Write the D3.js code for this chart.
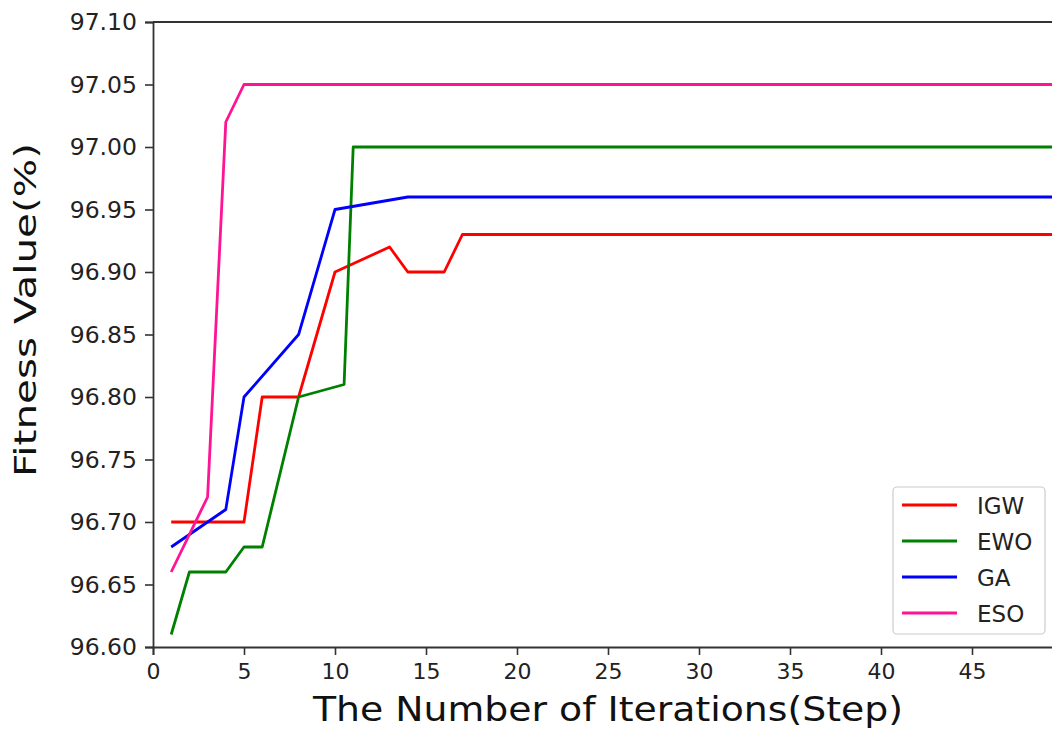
<!DOCTYPE html>
<html>
<head>
<meta charset="utf-8">
<script src="https://cdn.jsdelivr.net/npm/d3@7"></script>
<style>
  html, body { margin: 0; padding: 0; background: #fff; }
  svg { display: block; font-family: "DejaVu Sans", sans-serif; }
</style>
</head>
<body>
<svg id="chart" width="1052" height="731"></svg>
<script>
// ---- data ----
const seriesNames = ["IGW", "EWO", "GA", "ESO"];
const seriesColors = ["#ff0000", "#008000", "#0000ff", "#ff1493"];
const igwX = [1, 5, 6, 8, 10, 13, 14, 16, 17, 50];
const igwY = [96.70, 96.70, 96.80, 96.80, 96.90, 96.92, 96.90, 96.90, 96.93, 96.93];
const ewoX = [1, 2, 4, 5, 6, 8, 10.5, 11, 50];
const ewoY = [96.61, 96.66, 96.66, 96.68, 96.68, 96.80, 96.81, 97.00, 97.00];
const gaX = [1, 4, 5, 8, 10, 14, 50];
const gaY = [96.68, 96.71, 96.80, 96.85, 96.95, 96.96, 96.96];
const esoX = [1, 3, 4, 5, 50];
const esoY = [96.66, 96.72, 97.02, 97.05, 97.05];
const xTicks = [0, 5, 10, 15, 20, 25, 30, 35, 40, 45];
const yTicks = [96.60, 96.65, 96.70, 96.75, 96.80, 96.85, 96.90, 96.95, 97.00, 97.05, 97.10];
const xTitle = "The Number of Iterations(Step)";
const yTitle = "Fitness Value(%)";

const seriesX = [igwX, ewoX, gaX, esoX];
const seriesY = [igwY, ewoY, gaY, esoY];

// ---- layout ----
const svg = d3.select("#chart");
const plotLeft = 153, plotTop = 22, plotBottom = 647;
const x = d3.scaleLinear().domain([0, 50]).range([plotLeft, plotLeft + 50 * 18.2]);
const y = d3.scaleLinear().domain([96.60, 97.10]).range([plotBottom, plotTop]);

const axisColor = "#333";

// lines
const line = d3.line().x(d => x(d[0])).y(d => y(d[1]));
seriesNames.forEach((name, i) => {
  const pts = seriesX[i].map((v, j) => [v, seriesY[i][j]]);
  svg.append("path")
    .datum(pts)
    .attr("d", line)
    .attr("fill", "none")
    .attr("stroke", seriesColors[i])
    .attr("stroke-width", 2.8)
    .attr("stroke-linejoin", "round");
});

// top spine
svg.append("line").attr("x1", plotLeft).attr("x2", 1052).attr("y1", plotTop).attr("y2", plotTop)
  .attr("stroke", axisColor).attr("stroke-width", 1.8);

// y axis
const yAxis = d3.axisLeft(y).tickValues(yTicks).tickFormat(d3.format(".2f")).tickSize(8).tickPadding(8);
const gy = svg.append("g").attr("transform", `translate(${plotLeft},0)`).call(yAxis);
gy.select(".domain").attr("stroke", axisColor).attr("stroke-width", 1.8);
gy.selectAll(".tick line").attr("stroke", axisColor).attr("stroke-width", 1.6);
gy.selectAll(".tick text").attr("fill", "#222").style("font-size", "23.5px")
  .style("font-family", "DejaVu Sans, sans-serif");

// x axis
const xAxis = d3.axisBottom(x).tickValues(xTicks).tickFormat(d3.format("d")).tickSize(8).tickPadding(8);
const gx = svg.append("g").attr("transform", `translate(0,${plotBottom})`).call(xAxis);
gx.select(".domain").attr("stroke", axisColor).attr("stroke-width", 1.8);
gx.selectAll(".tick line").attr("stroke", axisColor).attr("stroke-width", 1.6);
gx.selectAll(".tick text").attr("fill", "#222").style("font-size", "22px")
  .style("font-family", "DejaVu Sans, sans-serif");

// titles
svg.append("text")
  .attr("x", 608).attr("y", 721)
  .attr("text-anchor", "middle")
  .attr("fill", "#111")
  .style("font-size", "34px")
  .attr("textLength", 590).attr("lengthAdjust", "spacingAndGlyphs")
  .text(xTitle);

svg.append("text")
  .attr("transform", "translate(36,310) rotate(-90)")
  .attr("text-anchor", "middle")
  .attr("fill", "#111")
  .style("font-size", "30px")
  .attr("textLength", 334).attr("lengthAdjust", "spacingAndGlyphs")
  .text(yTitle);

// legend
const lg = svg.append("g");
lg.append("rect").attr("x", 893).attr("y", 487).attr("width", 152).attr("height", 147)
  .attr("rx", 4).attr("fill", "#fff").attr("fill-opacity", 0.9)
  .attr("stroke", "#ccc").attr("stroke-width", 1.2);
seriesNames.forEach((name, i) => {
  const cy = 505 + i * 36;
  lg.append("line").attr("x1", 902).attr("x2", 957).attr("y1", cy).attr("y2", cy)
    .attr("stroke", seriesColors[i]).attr("stroke-width", 2.8);
  lg.append("text").attr("x", 977).attr("y", cy + 8.5)
    .attr("fill", "#222").style("font-size", "23px").text(name);
});
</script>
</body>
</html>
